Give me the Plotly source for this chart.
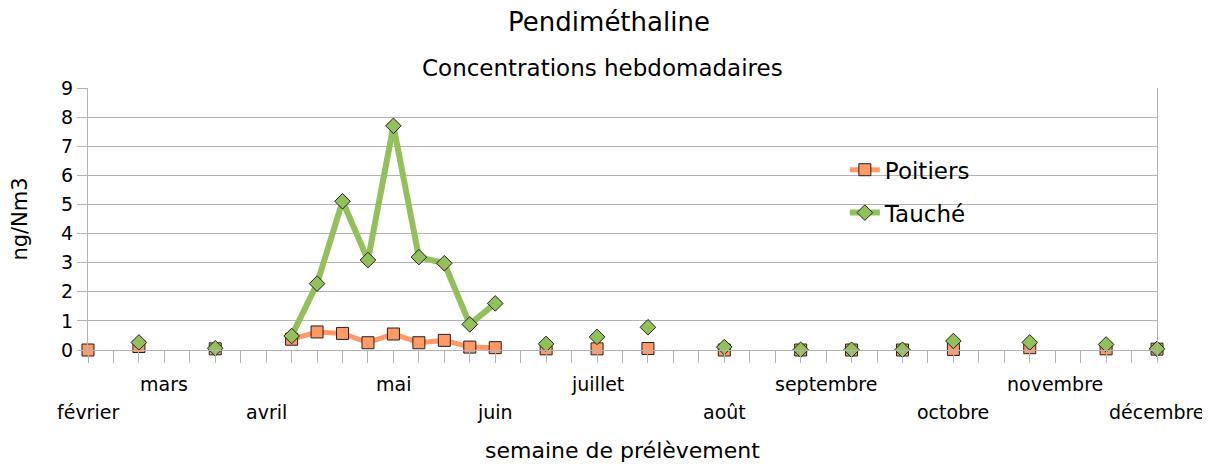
import plotly.graph_objects as go

# weekly samples, feb -> dec (index = week slot on the category axis)
weeks = list(range(43))
poitiers = [0, None, 0.12, None, None, 0.04, None, None, 0.37, 0.62, 0.57, 0.25, 0.55, 0.25, 0.33, 0.10, 0.08,
            None, 0.04, None, 0.04, None, 0.05, None, None, 0.0, None, None, 0.0, None, 0.0, None, 0.0,
            None, 0.02, None, None, 0.08, None, None, 0.04, None, 0.03]
tauche = [None, None, 0.26, None, None, 0.06, None, None, 0.48, 2.28, 5.11, 3.09, 7.70, 3.19, 2.98, 0.88, 1.60,
          None, 0.21, None, 0.45, None, 0.78, None, None, 0.10, None, None, 0.01, None, 0.01, None, 0.01,
          None, 0.31, None, None, 0.26, None, None, 0.19, None, 0.04]

months = ["février", "mars", "avril", "mai", "juin", "juillet", "août", "septembre", "octobre", "novembre", "décembre"]
month_week = [0, 3, 7, 12, 16, 20, 25, 29, 34, 38, 42]

FONT = "DejaVu Sans"
GRID = "#b3b3b3"
ORANGE = "#ff9966"
GREEN = "#92c05a"

fig = go.Figure()
fig.add_trace(go.Scatter(x=weeks, y=poitiers, name="Poitiers", mode="lines+markers", legendgroup="p",
                         line=dict(color=ORANGE, width=5), connectgaps=False, cliponaxis=False,
                         marker=dict(symbol="square", size=12, color=ORANGE, line=dict(color="#222", width=1))))
fig.add_trace(go.Scatter(x=weeks, y=tauche, name="Tauché", mode="lines+markers", legendgroup="t",
                         line=dict(color=GREEN, width=6), connectgaps=False, cliponaxis=False,
                         marker=dict(symbol="diamond", size=12, color=GREEN, line=dict(color="#222", width=1))))

# month names on two staggered rows
for i, (m, w) in enumerate(zip(months, month_week)):
    fig.add_annotation(x=w, y=0, xref="x", yref="paper", text=m, showarrow=False,
                       yanchor="middle", yshift=-34 if i % 2 else -62,
                       font=dict(family=FONT, size=19, color="black"))

# subtitle is centred on the whole page, not on the plot area
fig.add_annotation(x=0.481, y=1, xref="paper", yref="paper", text="Concentrations hebdomadaires",
                   showarrow=False, yanchor="middle", yshift=20,
                   font=dict(family=FONT, size=23, color="black"))

# page body adds an 8px offset, so the figure is a bit smaller than the window
fig.update_layout(
    width=1202, height=456,
    margin=dict(l=80, r=53, t=80, b=114),
    paper_bgcolor="white", plot_bgcolor="white",
    font=dict(family=FONT, color="black"),
    title=dict(text="Pendiméthaline", x=0.5, xanchor="center", y=1 - 14 / 456, yanchor="middle",
               font=dict(family=FONT, size=26, color="black")),
    legend=dict(x=0.708, y=0.77, xanchor="left", yanchor="top", bgcolor="rgba(0,0,0,0)",
                font=dict(family=FONT, size=23, color="black"), traceorder="grouped", tracegroupgap=10),
    xaxis=dict(range=[0, 42], tickmode="linear", tick0=0, dtick=1, showticklabels=False,
               ticks="outside", ticklen=12, tickcolor=GRID, showgrid=False, zeroline=False,
               showline=True, linecolor=GRID, automargin=False,
               title=dict(text="semaine de prélèvement", font=dict(family=FONT, size=22), standoff=80)),
    yaxis=dict(range=[0, 9], dtick=1, gridcolor=GRID, ticks="outside", ticklen=10, tickcolor=GRID,
               showline=True, linecolor=GRID, mirror=True, zeroline=False, automargin=False,
               tickfont=dict(family=FONT, size=19),
               title=dict(text="ng/Nm3", font=dict(family=FONT, size=21), standoff=29)),
)

fig.write_html("out.html")
